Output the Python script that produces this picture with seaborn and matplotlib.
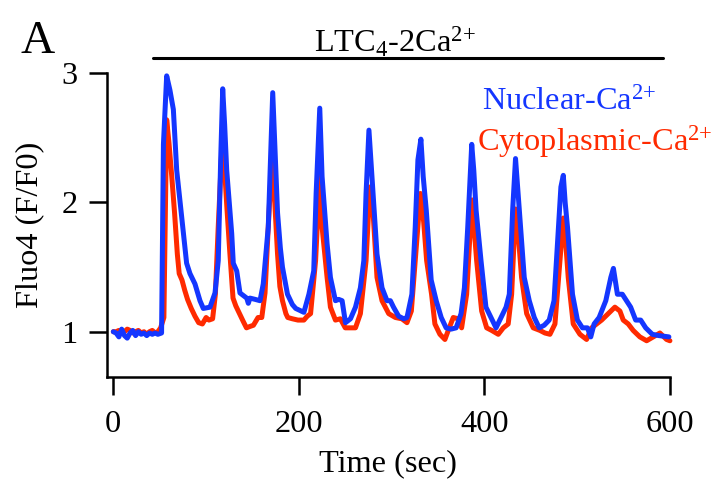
import matplotlib
matplotlib.use("Agg")
import matplotlib.pyplot as plt
import seaborn as sns

# nuclear Ca2+ trace (blue), time in sec, Fluo4 F/F0
t_nuc = [0, 3, 6, 9, 12, 15, 18, 21, 24, 27, 30, 33, 36, 39, 42, 45, 48, 52,
         54, 57.5, 61, 64.7, 68.3, 73.7, 79, 82.6, 88, 93.4, 97, 104.2, 109.6, 113.1, 115.7, 117.9,
         120, 122.2, 127.6, 129.3, 133, 136.5, 143.8, 145.5, 147.3, 153, 158.1, 161.6, 167, 171.8,
         174, 177, 180, 182.3, 187.7, 193, 196.6, 205.4, 210.8, 216, 218.6, 222.5,
         225, 230.4, 234, 239.4, 243, 246.6, 250.2, 255.6, 261, 266.3, 270, 272.4, 275.5,
         278.8, 284.2, 289.6, 295, 298.6, 302, 307.5, 313, 316.5, 321.8, 325.4, 328.3, 331.5,
         334, 337.3, 342.6, 348, 353.4, 358.7, 364, 369.5, 374.8, 378.4, 382, 386.3,
         388.5, 391, 396.3, 401.6, 407, 412.5, 417.9, 423.3, 426.8, 430.4, 433.5,
         436, 437.6, 442.9, 448.3, 453.7, 459, 464.4, 469.8, 475, 479.8, 482.4, 485,
         487, 489.5, 494.9, 500.2, 505.6, 511, 514.6, 518.2, 523.6, 530.8, 536.2, 539,
         543.3, 548.6, 557.6, 563, 568.4, 573.8, 580.9, 588, 598.8]
f_nuc = [1.00, 0.99, 0.96, 1.02, 0.97, 0.95, 0.99, 1.01, 0.97, 1.00, 0.98, 0.99, 0.97, 0.99, 0.98, 0.99, 0.98, 0.99,
         2.45, 2.98, 2.87, 2.72, 2.25, 1.89, 1.53, 1.45, 1.37, 1.24, 1.18, 1.19, 1.30, 1.55, 2.33, 2.88,
         2.60, 2.25, 1.76, 1.53, 1.47, 1.30, 1.26, 1.22, 1.26, 1.25, 1.24, 1.37, 1.81, 2.85,
         2.45, 1.92, 1.65, 1.50, 1.29, 1.21, 1.18, 1.15, 1.29, 1.47, 2.07, 2.73,
         2.20, 1.68, 1.42, 1.24, 1.25, 1.24, 1.07, 1.10, 1.19, 1.34, 1.55, 2.07, 2.56,
         2.20, 1.60, 1.34, 1.24, 1.24, 1.19, 1.12, 1.10, 1.11, 1.29, 1.81, 2.33, 2.49,
         2.20, 1.94, 1.40, 1.24, 1.11, 1.03, 1.02, 1.03, 1.14, 1.34, 1.81, 2.45,
         2.25, 1.94, 1.55, 1.19, 1.11, 1.03, 1.11, 1.19, 1.29, 1.94, 2.34,
         2.10, 1.94, 1.42, 1.24, 1.11, 1.03, 1.05, 1.09, 1.24, 1.81, 2.12, 2.21,
         2.00, 1.81, 1.29, 1.09, 1.03, 1.03, 0.96, 1.06, 1.11, 1.24, 1.42, 1.49,
         1.29, 1.29, 1.19, 1.09, 1.09, 1.03, 0.98, 0.97, 0.96]

# cytoplasmic Ca2+ trace (red)
t_cyt = [0, 3, 6, 9, 12, 15, 18, 21, 24, 27, 30, 33, 36, 39, 42, 45, 48, 51, 54.5,
         57.5, 60, 63, 66, 69, 71, 74, 77, 80, 84, 88, 92, 96, 100, 103, 107, 110, 113, 117.5,
         120, 122.5, 125.5, 129, 132, 136, 140, 143.5, 147, 151, 156, 160, 163.5, 167, 171,
         174, 177, 179.5, 182.3, 186, 188, 193, 199, 205.4, 209, 212.6, 218, 222.5,
         225, 230.4, 234, 239.4, 244.7, 250, 255.6, 261, 266.3, 272.4, 276.5,
         280, 284.2, 289.6, 296.8, 304, 311, 316.5, 321.2, 325.4, 331,
         334.5, 337.7, 343, 346.6, 352, 357.4, 361, 366.4, 371.8, 375.4, 380.8, 386.5,
         391.6, 397, 402.4, 407.8, 414.9, 420.3, 425.6, 429.3, 433.5,
         437, 440, 445.5, 452.6, 459.8, 465.2, 470.6, 476, 481.4, 485,
         488, 490.3, 495.7, 502.9, 510.1, 515.5, 520.9, 526.3, 533.4, 540.6, 546, 549.6,
         555, 560.3, 567.5, 574.8, 581.9, 589.1, 596.3, 599.9]
f_cyt = [1.00, 1.00, 1.01, 0.99, 1.00, 1.02, 1.01, 0.99, 1.00, 1.01, 0.99, 1.00, 0.98, 1.00, 1.01, 0.99, 1.00, 1.03, 1.11,
         2.64, 2.46, 2.20, 1.92, 1.60, 1.45, 1.40, 1.32, 1.25, 1.18, 1.12, 1.07, 1.06, 1.11, 1.09, 1.10, 1.29, 1.80, 2.50,
         2.25, 1.95, 1.62, 1.26, 1.20, 1.14, 1.08, 1.03, 1.04, 1.05, 1.11, 1.11, 1.30, 1.81, 2.36,
         2.00, 1.60, 1.35, 1.24, 1.14, 1.11, 1.10, 1.09, 1.09, 1.12, 1.14, 1.55, 2.21,
         1.81, 1.42, 1.19, 1.09, 1.10, 1.03, 1.03, 1.03, 1.14, 1.55, 2.12,
         1.92, 1.42, 1.24, 1.14, 1.11, 1.10, 1.07, 1.16, 1.55, 2.07,
         1.85, 1.55, 1.29, 1.06, 0.98, 0.94, 1.01, 1.11, 1.10, 1.03, 1.29, 2.02,
         1.55, 1.16, 1.03, 1.01, 0.98, 1.03, 1.06, 1.29, 1.95,
         1.70, 1.42, 1.14, 1.03, 1.01, 0.99, 0.98, 1.06, 1.55, 1.88,
         1.65, 1.42, 1.06, 0.98, 0.94, 1.03, 1.06, 1.09, 1.14, 1.19, 1.16, 1.09,
         1.06, 1.01, 0.96, 0.93, 0.96, 0.99, 0.94, 0.93]

x_ticks = [0, 200, 400, 600]
y_ticks = [1, 2, 3]

blue = "#1436ff"
red = "#ff2a00"
fs = 23.3

sns.set_style("ticks")
plt.rcParams["font.family"] = ["Liberation Serif", "DejaVu Serif"]
plt.rcParams["mathtext.fontset"] = "custom"
plt.rcParams["mathtext.rm"] = "Liberation Serif"
plt.rcParams["mathtext.it"] = "Liberation Serif:italic"
plt.rcParams["mathtext.bf"] = "Liberation Serif:bold"
plt.rcParams["text.color"] = "black"
plt.rcParams["axes.labelcolor"] = "black"

fig = plt.figure(figsize=(7.13, 4.82), dpi=100)
ax = fig.add_axes([0.1497, 0.2185, 0.790, 0.6295])

sns.lineplot(x=t_cyt, y=f_cyt, color=red, lw=3.6, estimator=None, sort=False, ax=ax, clip_on=False)
sns.lineplot(x=t_nuc, y=f_nuc, color=blue, lw=3.6, estimator=None, sort=False, ax=ax, clip_on=False)

ax.set_xlim(-7.1, 600)
ax.set_ylim(0.652, 3.0)
ax.set_xticks(x_ticks)
ax.set_yticks(y_ticks)

for side in ["top", "right"]:
    ax.spines[side].set_visible(False)
for side in ["left", "bottom"]:
    ax.spines[side].set_linewidth(1.8)
    ax.spines[side].set_color("black")

ax.tick_params(axis="both", direction="out", length=13, width=1.8, color="black",
               labelsize=fs, labelcolor="black")
ax.tick_params(axis="x", pad=11)
ax.tick_params(axis="y", pad=8)

ax.set_xlabel("Time (sec)", fontsize=fs, labelpad=7)
ax.set_ylabel("Fluo4 (F/F0)", fontsize=fs, labelpad=12)

# stimulus bar
ax.plot([43, 592], [3.12, 3.12], color="black", lw=2.2, clip_on=False)
ax.text(303, 3.165, r"LTC$_4$-2Ca$^{2{+}}$", fontsize=fs, ha="center", va="baseline")

ax.text(397, 2.716, r"Nuclear-Ca$^{2{+}}$", color=blue, fontsize=fs, ha="left", va="baseline")
ax.text(392, 2.40, r"Cytoplasmic-Ca$^{2{+}}$", color=red, fontsize=fs, ha="left", va="baseline")

fig.text(38 / 713, 1 - 53 / 482, "A", fontsize=34, ha="center", va="baseline")

fig.savefig("out.png", dpi=100)
